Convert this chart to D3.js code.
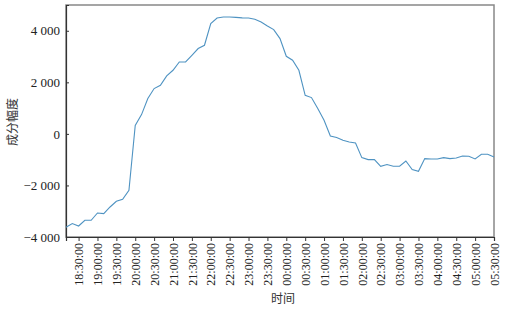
<!DOCTYPE html>
<html><head><meta charset="utf-8">
<script src="https://cdn.jsdelivr.net/npm/d3@7"></script>
<style>body{margin:0;background:#fff}</style>
</head><body>
<svg id="c" width="510" height="311"></svg>
<script>
const startTime = "18:10";
const stepMinutes = 10;
const values = [-3620,-3480,-3573,-3352,-3352,-3069,-3092,-2836,-2615,-2537,-2188,
  330,748,1370,1758,1886,2247,2468,2790,2790,3050,3310,3438,4280,4497,4536,4536,4520,4500,4497,
  4446,4342,4187,4047,3698,3011,2856,2468,1498,1408,982,528,-81,-140,-248,-314,-353,-920,-997,-997,
  -1257,-1191,-1257,-1257,-1051,-1385,-1451,-958,-973,-973,-920,-958,-935,-857,-869,-973,-792,-792,-896];
const xTickLabels = ["18:30:00","19:00:00","19:30:00","20:00:00","20:30:00","21:00:00","21:30:00","22:00:00","22:30:00","23:00:00","23:30:00","00:00:00","00:30:00","01:00:00","01:30:00","02:00:00","02:30:00","03:00:00","03:30:00","04:00:00","04:30:00","05:00:00","05:30:00"];
const yTicks = [-4000,-2000,0,2000,4000];
const yTickLabels = ["\u22124 000","\u22122 000","0","2 000","4 000"];
const yDomain = [-4000,5000];
const xLabel = "时间", yLabel = "成分幅度";

const base = new Date(2020,0,1,18,10);
const times = values.map((v,i)=> new Date(base.getTime()+i*stepMinutes*60000));
const data = values.map((v,i)=>({t:times[i], v}));
const parseTick = s => { const [h,m]=s.split(":").map(Number); let d=new Date(2020,0,1,h,m); if(h<12) d=new Date(2020,0,2,h,m); return d; };

const L=66, R=494, T=5, B=237;
const svg = d3.select("#c");
const x = d3.scaleTime().domain([times[0], times[times.length-1]]).range([L,R]);
const y = d3.scaleLinear().domain(yDomain).range([B,T]);
const font = "'Liberation Serif', 'Times New Roman', 'DejaVu Serif', serif";

svg.append("rect").attr("x",L).attr("y",T).attr("width",R-L).attr("height",B-T)
  .attr("fill","none").attr("stroke","#888").attr("stroke-width",1.5);

const ya = svg.append("g").attr("transform",`translate(${L},0)`)
  .call(d3.axisLeft(y).tickValues(yTicks).tickSize(-3).tickPadding(6).tickFormat((d,i)=>yTickLabels[i]));
ya.attr("font-family",null).style("font-family",font).attr("font-size",13);
ya.select(".domain").attr("stroke","#333").attr("stroke-width",1.2);
ya.selectAll("line").attr("stroke","#333");
ya.selectAll("text").attr("fill","#222");

const xa = svg.append("g").attr("transform",`translate(0,${B})`)
  .call(d3.axisBottom(x).tickValues(xTickLabels.map(parseTick)).tickSize(4).tickFormat((d,i)=>xTickLabels[i]));
xa.attr("font-family",null).style("font-family",font).attr("font-size",12);
xa.select(".domain").attr("stroke","#333").attr("stroke-width",1.2);
xa.selectAll("line").attr("stroke","#333");
xa.selectAll("text").attr("fill","#222")
  .attr("transform","rotate(-90)").attr("text-anchor","end").attr("dx","-6").attr("dy","0.35em").attr("y",0).attr("x",0);

svg.append("path").datum(data)
  .attr("d", d3.line().x(d=>x(d.t)).y(d=>y(d.v)))
  .attr("fill","none").attr("stroke","#4f93c2").attr("stroke-width",1.1);

svg.append("text").attr("x",283).attr("y",303).attr("text-anchor","middle")
  .style("font-family","'Noto Sans CJK SC'").attr("font-size",12).attr("fill","#333").text(xLabel);
svg.append("text").attr("transform","translate(17,122) rotate(-90)").attr("text-anchor","middle")
  .style("font-family","'Noto Sans CJK SC'").attr("font-size",12).attr("fill","#333").text(yLabel);
</script>
</body></html>
